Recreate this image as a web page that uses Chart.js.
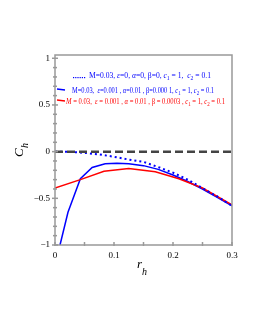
<!DOCTYPE html>
<html lang="en">
<head>
    <meta charset="UTF-8">
    <title>C_h vs r_h</title>
    <style>
        body, html {
            margin: 0;
            padding: 0;
            background: #fff;
        }
        #wrap {
            width: 255px;
            height: 330px;
        }
    </style>
</head>
<body>
    <div id="wrap"><canvas id="chChart" width="255" height="330"></canvas></div>
    <script src="https://cdn.jsdelivr.net/npm/chart.js"></script>
    <script>
        // beta = 0 (dotted)
        const rDot = [0, 0.025, 0.05, 0.075, 0.1, 0.125, 0.15, 0.175, 0.2, 0.225, 0.25, 0.275, 0.3];
        const chDot = [0, -0.003, -0.013, -0.03, -0.055, -0.085, -0.11, -0.165, -0.225, -0.3, -0.39, -0.48, -0.58];
        // beta = 0.0001 (blue solid)
        const rBlue = [0.0085, 0.022, 0.043, 0.063, 0.085, 0.105, 0.125, 0.15, 0.175, 0.2, 0.225, 0.25, 0.275, 0.3];
        const chBlue = [-1, -0.65, -0.29, -0.17, -0.13, -0.125, -0.13, -0.15, -0.19, -0.25, -0.32, -0.4, -0.49, -0.58];
        // beta = 0.0003 (red)
        const rRed = [0, 0.043, 0.083, 0.125, 0.17, 0.21, 0.25, 0.3];
        const chRed = [-0.39, -0.3, -0.21, -0.18, -0.215, -0.29, -0.39, -0.57];

        const xTicks = [0, 0.05, 0.1, 0.15, 0.2, 0.25, 0.3];
        const xLabels = ['0', '0.1', '0.2', '0.3'];
        const yTicks = [-1, -0.9, -0.8, -0.7, -0.6, -0.5, -0.4, -0.3, -0.2, -0.1, 0, 0.1, 0.2, 0.3, 0.4, 0.5, 0.6, 0.7, 0.8, 0.9, 1];
        const yLabels = ['\u22121', '\u22120.5', '0', '0.5', '1'];

        const toPts = (xs, ys) => xs.map((x, i) => ({ x: x, y: ys[i] }));

        const SERIF = '"Liberation Serif", "DejaVu Serif", serif';

        // legend lines: [text, style]  n = normal, i = italic, s = subscript
        const legendLines = [
            { color: '#0000ff', x: 89, y: 78, w: 122, mark: 'dot', items: [['M=0.03, ', 'n'], ['\u03b5', 'i'], ['=0, ', 'n'], ['\u03b1', 'i'], ['=0, \u03b2=0, ', 'n'], ['c', 'i'], ['1', 's'], [' = 1,  ', 'n'], ['c', 'i'], ['2', 's'], [' = 0.1', 'n']] },
            { color: '#0000ff', x: 72, y: 93, w: 142, mark: 'line', items: [['M=0.03,  ', 'n'], ['\u03b5', 'i'], ['=0.001 , ', 'n'], ['\u03b1', 'i'], ['=0.01 , \u03b2=0.000 1, ', 'n'], ['c', 'i'], ['1', 's'], [' = 1, ', 'n'], ['c', 'i'], ['2', 's'], [' = 0.1', 'n']] },
            { color: '#ff0000', x: 66, y: 104, w: 159, mark: 'line', items: [['M', 'i'], [' = 0.03,  ', 'n'], ['\u03b5', 'i'], [' = 0.001 , ', 'n'], ['\u03b1', 'i'], [' = 0.01 , \u03b2 = 0.0003 , ', 'n'], ['c', 'i'], ['1', 's'], [' = 1, ', 'n'], ['c', 'i'], ['2', 's'], [' = 0.1', 'n']] }
        ];

        function richWidth(ctx, items, size) {
            let w = 0;
            items.forEach(([t, s]) => {
                ctx.font = s === 's' ? (size * 0.75) + 'px ' + SERIF : (s === 'i' ? 'italic ' : '') + size + 'px ' + SERIF;
                w += ctx.measureText(t).width;
            });
            return w;
        }

        function drawRich(ctx, items, x, y, size) {
            let cx = x;
            items.forEach(([t, s]) => {
                if (s === 's') {
                    ctx.font = (size * 0.75) + 'px ' + SERIF;
                    ctx.fillText(t, cx, y + size * 0.3);
                } else {
                    ctx.font = (s === 'i' ? 'italic ' : '') + size + 'px ' + SERIF;
                    ctx.fillText(t, cx, y);
                }
                cx += ctx.measureText(t).width;
            });
        }

        const frame = {
            id: 'frame',
            afterDatasetsDraw(chart) {
                const ctx = chart.ctx;
                const a = chart.chartArea;
                const xs = chart.scales.x, ys = chart.scales.y;
                ctx.save();
                ctx.strokeStyle = '#999';
                ctx.lineWidth = 1.5;
                ctx.strokeRect(a.left, a.top, a.right - a.left, a.bottom - a.top);
                // y ticks
                yTicks.forEach(v => {
                    const py = ys.getPixelForValue(v);
                    const major = Math.abs(v * 2 - Math.round(v * 2)) < 1e-6;
                    ctx.beginPath();
                    ctx.moveTo(a.left - (major ? 3 : 2), py);
                    ctx.lineTo(a.left + (major ? 3 : 2), py);
                    ctx.stroke();
                });
                // x ticks
                xTicks.forEach(v => {
                    const px = xs.getPixelForValue(v);
                    ctx.beginPath();
                    ctx.moveTo(px, a.bottom + 1);
                    ctx.lineTo(px, a.bottom - 3);
                    ctx.stroke();
                });
                ctx.restore();
            },
            afterDraw(chart) {
                const ctx = chart.ctx;
                ctx.save();
                ctx.textBaseline = 'alphabetic';
                legendLines.forEach(l => {
                    ctx.fillStyle = l.color;
                    ctx.strokeStyle = l.color;
                    if (l.mark === 'dot') {
                        for (let i = 0; i < 6; i++) {
                            ctx.fillRect(73 + i * 2.2, l.y - 1, 1.2, 1.2);
                        }
                    } else {
                        ctx.lineWidth = 1.5;
                        ctx.beginPath();
                        ctx.moveTo(57, l.y - 4);
                        ctx.lineTo(65, l.y - 3);
                        ctx.stroke();
                    }
                    const size = 7.6;
                    const sx = l.w / richWidth(ctx, l.items, size);
                    ctx.save();
                    ctx.translate(l.x, l.y);
                    ctx.scale(sx, 1);
                    drawRich(ctx, l.items, 0, 0, size);
                    ctx.restore();
                });
                // axis titles
                ctx.fillStyle = '#000';
                ctx.font = 'italic 13px ' + SERIF;
                ctx.fillText('r', 137, 268);
                ctx.font = 'italic 10px ' + SERIF;
                ctx.fillText('h', 142, 275);
                ctx.translate(23, 157);
                ctx.rotate(-Math.PI / 2);
                ctx.font = 'italic 13px ' + SERIF;
                ctx.fillText('C', 0, 0);
                ctx.font = 'italic 10px ' + SERIF;
                ctx.fillText('h', 9, 5);
                ctx.restore();
            }
        };

        new Chart(document.getElementById('chChart').getContext('2d'), {
            type: 'line',
            data: {
                datasets: [
                    {
                        data: toPts([0, 0.3], [0, 0]),
                        borderColor: '#444',
                        borderWidth: 2.5,
                        borderDash: [8, 4]
                    },
                    {
                        data: toPts(rDot, chDot),
                        borderColor: '#0000ff',
                        borderWidth: 2,
                        borderDash: [2, 3]
                    },
                    {
                        data: toPts(rRed, chRed),
                        borderColor: '#ff0000',
                        borderWidth: 1.5
                    },
                    {
                        data: toPts(rBlue, chBlue),
                        borderColor: '#0000ff',
                        borderWidth: 1.5
                    }
                ]
            },
            options: {
                responsive: false,
                animation: false,
                layout: { padding: { top: 55, right: 23, left: 0, bottom: 0 } },
                elements: { point: { radius: 0 }, line: { tension: 0 } },
                plugins: { legend: { display: false }, tooltip: { enabled: false } },
                scales: {
                    x: {
                        type: 'linear',
                        min: 0,
                        max: 0.3,
                        afterFit: s => { s.height = 85; },
                        afterBuildTicks: s => { s.ticks = xTicks.map(v => ({ value: v })); },
                        grid: { display: false, drawTicks: false },
                        border: { display: false },
                        ticks: {
                            autoSkip: false,
                            maxRotation: 0,
                            padding: 5,
                            color: '#000',
                            font: { family: SERIF, size: 9 },
                            callback: v => {
                                const k = Math.round(v * 10);
                                return Math.abs(v * 10 - k) < 1e-6 ? xLabels[k] : '';
                            }
                        }
                    },
                    y: {
                        min: -1,
                        max: 1.035,
                        afterFit: s => { s.width = 55; },
                        afterBuildTicks: s => { s.ticks = yTicks.map(v => ({ value: v })); },
                        grid: { display: false, drawTicks: false },
                        border: { display: false },
                        ticks: {
                            autoSkip: false,
                            padding: 5,
                            color: '#000',
                            font: { family: SERIF, size: 9 },
                            callback: v => {
                                const k = Math.round(v * 2);
                                return Math.abs(v * 2 - k) < 1e-6 ? yLabels[k + 2] : '';
                            }
                        }
                    }
                }
            },
            plugins: [frame]
        });
    </script>
</body>
</html>
